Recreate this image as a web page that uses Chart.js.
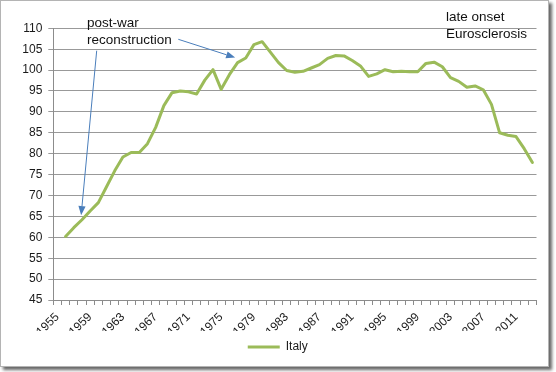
<!DOCTYPE html>
<html>
<head>
<meta charset="utf-8">
<script src="https://cdn.jsdelivr.net/npm/chart.js@4.4.1/dist/chart.umd.min.js"></script>
<style>
  html, body { margin: 0; padding: 0; background: #fff; }
  #frame {
    position: absolute; left: 0; top: 0;
    width: 547px; height: 365px;
    border: 1px solid #b4b4b4;
    box-shadow: 3px 3px 3px rgba(0, 0, 0, 0.6);
    background: #fff;
  }
  canvas { display: block; }
</style>
</head>
<body>
<div id="frame"><canvas id="italyChart" width="547" height="365"></canvas></div>
<script>
// categories: one per year, 1955..2013
const years = [
  1955, 1956, 1957, 1958, 1959, 1960, 1961, 1962, 1963, 1964,
  1965, 1966, 1967, 1968, 1969, 1970, 1971, 1972, 1973, 1974,
  1975, 1976, 1977, 1978, 1979, 1980, 1981, 1982, 1983, 1984,
  1985, 1986, 1987, 1988, 1989, 1990, 1991, 1992, 1993, 1994,
  1995, 1996, 1997, 1998, 1999, 2000, 2001, 2002, 2003, 2004,
  2005, 2006, 2007, 2008, 2009, 2010, 2011, 2012, 2013
];

// Italy series (no value for 1955)
const italy = [
  null, 60.2, 62.3, 64.2, 66.3, 68.3, 72.1, 75.9, 79.2, 80.3,
  80.3, 82.4, 86.3, 91.5, 94.6, 95.0, 94.8, 94.3, 97.6, 100.1,
  95.4, 98.9, 101.8, 102.9, 106.1, 106.8, 104.3, 101.8, 99.9, 99.5,
  99.7, 100.5, 101.3, 102.8, 103.5, 103.4, 102.3, 101.0, 98.5, 99.1,
  100.1, 99.6, 99.7, 99.6, 99.6, 101.6, 101.9, 100.8, 98.2, 97.3,
  95.9, 96.2, 95.3, 91.8, 85.0, 84.4, 84.1, 81.2, 77.9
];

// x tick labels that are actually printed
const shownYearLabels = ['1955', '1959', '1963', '1967', '1971', '1975', '1979', '1983',
  '1987', '1991', '1995', '1999', '2003', '2007', '2011'];

// y axis range
const yMin = 45;
const yMax = 110;
const yStep = 5;

const tickFont = { family: '"Liberation Sans", Arial, sans-serif', size: 12 };
const noteFont = '13.5px "Liberation Sans", Arial, sans-serif';

function drawArrow(ctx, x0, y0, x1, y1) {
  const ang = Math.atan2(y1 - y0, x1 - x0);
  const len = 9, half = 3.6;
  const bx = x1 - len * Math.cos(ang), by = y1 - len * Math.sin(ang);
  ctx.beginPath();
  ctx.moveTo(x0, y0);
  ctx.lineTo(bx, by);
  ctx.stroke();
  ctx.beginPath();
  ctx.moveTo(x1, y1);
  ctx.lineTo(bx + half * Math.sin(ang), by - half * Math.cos(ang));
  ctx.lineTo(bx - half * Math.sin(ang), by + half * Math.cos(ang));
  ctx.closePath();
  ctx.fill();
}

// text notes and arrows laid over the chart
const notesPlugin = {
  id: 'notes',
  afterDraw(chart) {
    const ctx = chart.ctx;
    const x = chart.scales.x, y = chart.scales.y;
    ctx.save();
    ctx.font = noteFont;
    ctx.fillStyle = '#111';
    ctx.textBaseline = 'alphabetic';
    ctx.fillText('post-war', 86, 25.7);
    ctx.fillText('reconstruction', 86, 43.3);
    ctx.fillText('late onset', 445, 19.7);
    ctx.fillText('Eurosclerosis', 445, 37.3);

    ctx.strokeStyle = '#4a7ebb';
    ctx.fillStyle = '#4a7ebb';
    ctx.lineWidth = 1;
    // to the 1958 point
    drawArrow(ctx, 95.7, 49.7, x.getPixelForValue(years.indexOf(1958) - 0.1), y.getPixelForValue(65.3));
    // to the late seventies
    drawArrow(ctx, 177.3, 38.3, x.getPixelForValue(years.indexOf(1977) - 0.3), y.getPixelForValue(103.0));
    ctx.restore();
  }
};

const ctx = document.getElementById('italyChart').getContext('2d');
const italyChart = new Chart(ctx, {
  type: 'line',
  data: {
    labels: years.map(String),
    datasets: [{
      label: 'Italy',
      data: italy,
      borderColor: '#9bbb59',
      backgroundColor: '#9bbb59',
      borderWidth: 3,
      borderJoinStyle: 'round',
      borderCapStyle: 'round',
      pointRadius: 0,
      tension: 0,
      fill: false
    }]
  },
  options: {
    responsive: false,
    animation: false,
    devicePixelRatio: 1,
    layout: { padding: { left: 18, top: 27.3, right: 11.5, bottom: 3 } },
    scales: {
      x: {
        type: 'category',
        offset: true,
        grid: { display: true, drawOnChartArea: false, drawTicks: true, tickLength: 5, offset: true, color: '#8c8c8c' },
        border: { display: true, color: '#8c8c8c' },
        ticks: {
          autoSkip: false,
          maxRotation: 45,
          minRotation: 45,
          padding: 5,
          color: '#1a1a1a',
          font: tickFont,
          callback: function (value) {
            const lab = this.getLabelForValue(value);
            return shownYearLabels.includes(lab) ? lab : '';
          }
        },
        afterFit: (scale) => { scale.height = 31; }
      },
      y: {
        min: yMin,
        max: yMax,
        grid: { color: '#999', drawTicks: true, tickLength: 5 },
        border: { display: true, color: '#8c8c8c' },
        ticks: { stepSize: yStep, padding: 6, color: '#1a1a1a', font: tickFont },
        afterFit: (scale) => { scale.width = 34.3; }
      }
    },
    plugins: {
      legend: {
        position: 'bottom',
        labels: {
          usePointStyle: true,
          pointStyle: 'line',
          pointStyleWidth: 32,
          color: '#1a1a1a',
          font: tickFont
        }
      },
      tooltip: { enabled: false }
    }
  },
  plugins: [notesPlugin]
});
</script>
</body>
</html>
